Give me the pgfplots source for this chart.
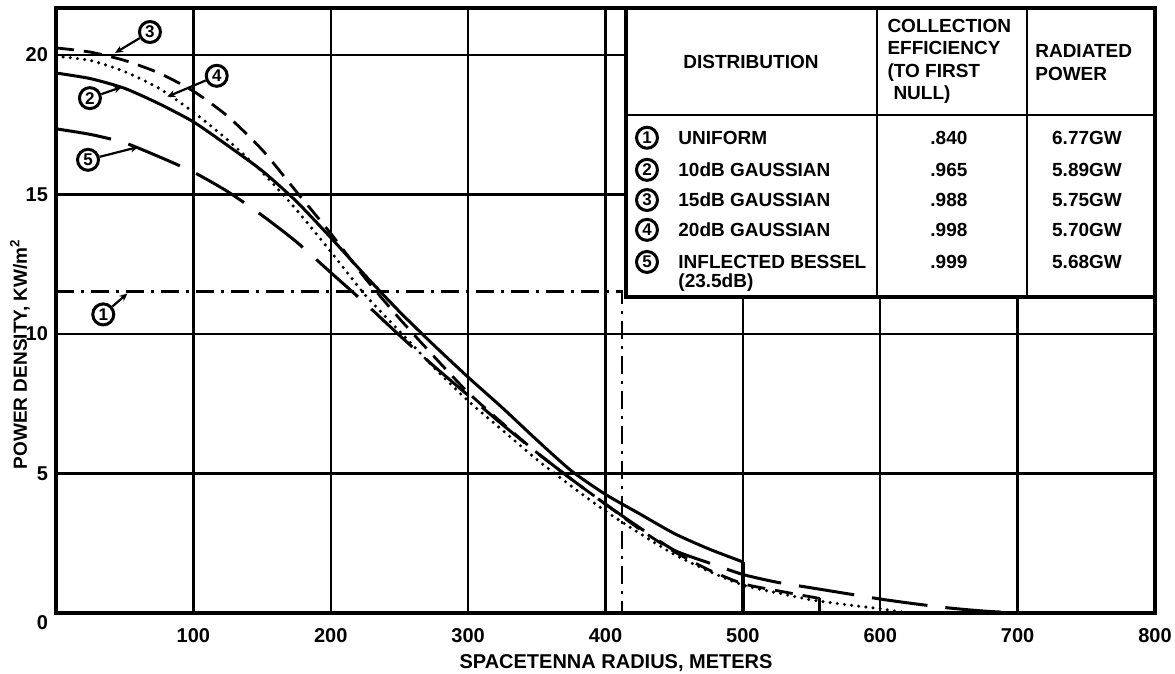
\documentclass[border=0pt]{standalone}
\usepackage{fontspec}
\setmainfont{Liberation Sans}
\usepackage{pgfplots}
\pgfplotsset{compat=1.18}
\usetikzlibrary{arrows.meta}

\newcommand{\tabfont}{\bfseries\fontsize{9.5}{11.2}\selectfont}
\tikzset{
  circnum/.style={circle, draw, line width=1.5pt, inner sep=0pt, minimum size=10.5pt,
                  font=\bfseries\fontsize{8.5}{9}\selectfont},
  pointer/.style={-{Stealth[length=4pt,width=3.5pt]}, line width=1.1pt},
}

\begin{document}
\begin{tikzpicture}
\begin{axis}[
  scale only axis, width=549.5pt, height=302.5pt,
  xmin=0, xmax=800, ymin=0, ymax=21.68,
  xtick={100,200,300,400,500,600,700,800},
  xticklabels={100,200,300,400,500,600,700,800},
  ytick={0,5,10,15,20},
  yticklabels={\smash{\raisebox{-8.5pt}{0}},5,10,15,20},
  major tick length=0pt,
  grid=major,
  major grid style={black, line width=1.2pt},
  axis line style={black, line width=2pt},
  tick label style={font=\bfseries\fontsize{10}{12}\selectfont},
  xticklabel style={yshift=-4pt},
  yticklabel style={xshift=-0.5pt},
  clip=false,
]
% 1 uniform
\addplot[black, line width=1.4pt, dash pattern=on 9pt off 3.5pt on 1.5pt off 3.5pt]
  coordinates {(0,11.52) (412,11.52) (412,0)};
% 2 10dB gaussian (solid)
\addplot[black, line width=1.5pt, smooth, tension=0.4] coordinates {
 (0,19.35) (25,19.15) (50,18.8) (75,18.25) (100,17.6) (125,16.75) (150,15.85)
 (175,14.75) (200,13.45) (225,12.1) (250,10.8) (275,9.6) (300,8.45) (325,7.35)
 (350,6.2) (375,5.1) (400,4.25) (425,3.55) (450,2.85) (475,2.3) (500,1.83)};
\addplot[black, line width=2.2pt] coordinates {(500,1.83) (500,0)};
% 3 15dB gaussian (dashed)
\addplot[black, line width=1.4pt, dash pattern=on 9pt off 5pt, smooth, tension=0.4] coordinates {
 (0,20.25) (25,20.1) (50,19.8) (75,19.35) (100,18.7) (125,17.8) (150,16.6)
 (175,15.1) (200,13.6) (225,12.0) (250,10.55) (275,9.2) (300,7.9) (325,6.8)
 (350,5.75) (375,4.8) (400,3.9) (425,3.0) (450,2.2) (475,1.55) (500,1.05)
 (525,0.8) (556,0.52)};
\addplot[black, line width=1.6pt] coordinates {(556,0.52) (556,0)};
% 4 20dB gaussian (dotted)
\addplot[black, line width=1.7pt, line cap=round, dash pattern=on 0pt off 3.6pt, smooth, tension=0.4] coordinates {
 (0,19.95) (25,19.8) (50,19.4) (75,18.8) (100,17.95) (125,16.95) (150,15.8)
 (175,14.45) (200,12.95) (225,11.4) (250,10.1) (275,8.8) (300,7.6) (325,6.55)
 (350,5.5) (375,4.55) (400,3.65) (425,2.85) (450,2.1) (475,1.5) (500,1.0)
 (525,0.72) (550,0.47) (575,0.3) (600,0.15) (619,0)};
% 5 inflected Bessel (long dash)
\addplot[black, line width=1.5pt, dash pattern=on 28pt off 9pt, smooth, tension=0.4] coordinates {
 (0,17.35) (25,17.15) (50,16.85) (75,16.35) (100,15.8) (125,15.1) (150,14.25)
 (175,13.3) (200,12.2) (225,11.1) (250,9.95) (275,8.85) (300,7.8) (325,6.75)
 (350,5.75) (375,4.8) (400,3.9) (425,3.05) (450,2.25) (475,1.8) (500,1.38)
 (525,1.1) (550,0.9) (575,0.7) (600,0.5) (625,0.33) (650,0.18) (675,0.07) (700,0)};

% curve labels
\node[circnum] (c1) at (axis cs:34.4,10.7) {1};
\draw[pointer] (c1) -- (axis cs:52,11.45);
\node[circnum] (c2) at (axis cs:24.7,18.45) {2};
\draw[pointer] (c2) -- (axis cs:48,18.85);
\node[circnum] (c3) at (axis cs:68.4,20.82) {3};
\draw[pointer] (c3) -- (axis cs:43,20.07);
\node[circnum] (c4) at (axis cs:117,19.25) {4};
\draw[pointer] (c4) -- (axis cs:81,18.5);
\node[circnum] (c5) at (axis cs:23.3,16.24) {5};
\draw[pointer] (c5) -- (axis cs:60,16.7);

% table
\draw[black, line width=1.8pt, fill=white] (axis cs:415,11.33) rectangle (axis cs:800,21.68);
\draw[black, line width=1.3pt] (axis cs:597.6,11.33) -- (axis cs:597.6,21.68);
\draw[black, line width=1.3pt] (axis cs:706.8,11.33) -- (axis cs:706.8,21.68);
\draw[black, line width=1.3pt] (axis cs:415,17.85) -- (axis cs:800,17.85);
\node[font=\tabfont] at (axis cs:505.9,19.75) {DISTRIBUTION};
\node[font=\tabfont, anchor=west, align=left, inner sep=0pt] at (axis cs:605,19.77)
  {COLLECTION\\EFFICIENCY\\(TO FIRST\\\hspace{3pt}NULL)};
\node[font=\tabfont, anchor=west, align=left, inner sep=0pt] at (axis cs:712.6,19.73)
  {RADIATED\\POWER};
\node[circnum] at (axis cs:430.2,17.03) {1};
\node[circnum] at (axis cs:430.2,15.88) {2};
\node[circnum] at (axis cs:430.2,14.80) {3};
\node[circnum] at (axis cs:430.2,13.73) {4};
\node[circnum] at (axis cs:430.2,12.58) {5};
\node[font=\tabfont, anchor=west, inner sep=0pt] at (axis cs:452.8,17.03) {UNIFORM};
\node[font=\tabfont, anchor=west, inner sep=0pt] at (axis cs:452.8,15.88) {10dB GAUSSIAN};
\node[font=\tabfont, anchor=west, inner sep=0pt] at (axis cs:452.8,14.80) {15dB GAUSSIAN};
\node[font=\tabfont, anchor=west, inner sep=0pt] at (axis cs:452.8,13.73) {20dB GAUSSIAN};
\node[font=\tabfont, anchor=west, inner sep=0pt] at (axis cs:452.8,12.58) {INFLECTED BESSEL};
\node[font=\tabfont, anchor=west, inner sep=0pt] at (axis cs:452.8,11.83) {(23.5dB)};
\node[font=\tabfont] at (axis cs:650,17.03) {.840};
\node[font=\tabfont] at (axis cs:650,15.88) {.965};
\node[font=\tabfont] at (axis cs:650,14.80) {.988};
\node[font=\tabfont] at (axis cs:650,13.73) {.998};
\node[font=\tabfont] at (axis cs:650,12.58) {.999};
\node[font=\tabfont] at (axis cs:750.5,17.03) {6.77GW};
\node[font=\tabfont] at (axis cs:750.5,15.88) {5.89GW};
\node[font=\tabfont] at (axis cs:750.5,14.80) {5.75GW};
\node[font=\tabfont] at (axis cs:750.5,13.73) {5.70GW};
\node[font=\tabfont] at (axis cs:750.5,12.58) {5.68GW};

% axis labels
\node[font=\bfseries\fontsize{10}{12}\selectfont] at (axis description cs:0.5096,-0.0826)
  {SPACETENNA RADIUS, METERS};
\node[font=\bfseries\fontsize{9.5}{11}\selectfont, rotate=90] at (axis description cs:-0.0328,0.428)
  {POWER DENSITY, KW/m\textsuperscript{2}};
\end{axis}
\pgfresetboundingbox
\path[use as bounding box] (-28pt,-30.5pt) rectangle (559.5pt,306.5pt);
\end{tikzpicture}
\end{document}
